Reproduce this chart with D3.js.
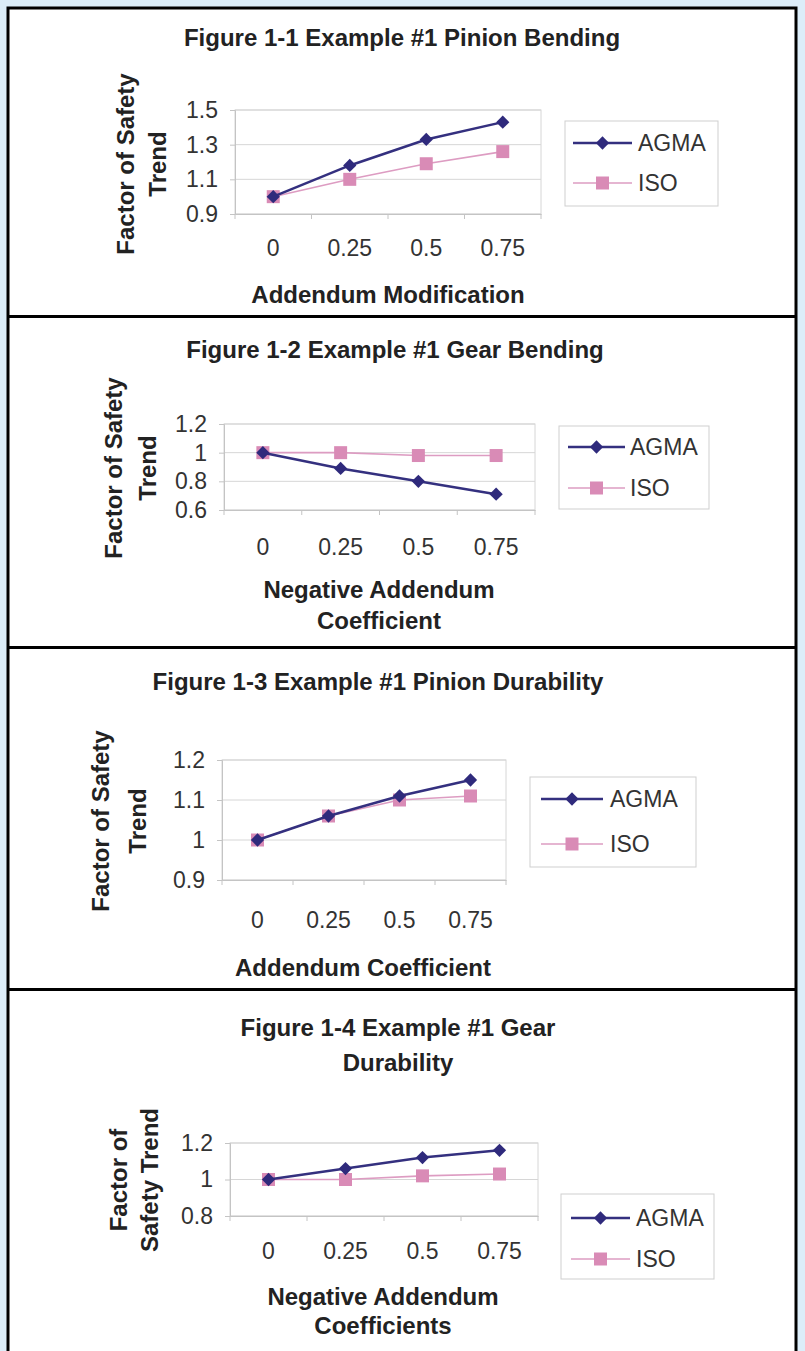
<!DOCTYPE html>
<html>
<head>
<meta charset="utf-8">
<script src="https://cdn.jsdelivr.net/npm/d3@7"></script>
<style>
  body { margin: 0; background: #dcedf9; }
  svg { display: block; font-family: "Liberation Sans", Arial, sans-serif; }
</style>
</head>
<body>
<svg id="chart" width="805" height="1351"></svg>
<script>
// data
const categories = ["0", "0.25", "0.5", "0.75"];
const seriesNames = ["AGMA", "ISO"];

const agmaPinionBending = [1.0, 1.18, 1.33, 1.43];
const isoPinionBending = [1.0, 1.1, 1.19, 1.26];
const agmaGearBending = [1.0, 0.89, 0.8, 0.71];
const isoGearBending = [1.0, 1.0, 0.98, 0.98];
const agmaPinionDurability = [1.0, 1.06, 1.11, 1.15];
const isoPinionDurability = [1.0, 1.06, 1.1, 1.11];
const agmaGearDurability = [1.0, 1.06, 1.12, 1.16];
const isoGearDurability = [1.0, 1.0, 1.02, 1.03];

const titles = [
  ["Figure 1-1 Example #1 Pinion Bending"],
  ["Figure 1-2 Example #1 Gear Bending"],
  ["Figure 1-3 Example #1 Pinion Durability"],
  ["Figure 1-4 Example #1 Gear", "Durability"],
];
const xTitles = [
  ["Addendum Modification"],
  ["Negative Addendum", "Coefficient"],
  ["Addendum Coefficient"],
  ["Negative Addendum", "Coefficients"],
];
const yTitles = [
  ["Factor of Safety", "Trend"],
  ["Factor of Safety", "Trend"],
  ["Factor of Safety", "Trend"],
  ["Factor of", "Safety Trend"],
];
const yTicks = [
  [0.9, 1.1, 1.3, 1.5],
  [0.6, 0.8, 1, 1.2],
  [0.9, 1, 1.1, 1.2],
  [0.8, 1, 1.2],
];
const seriesByPanel = [
  [agmaPinionBending, isoPinionBending],
  [agmaGearBending, isoGearBending],
  [agmaPinionDurability, isoPinionDurability],
  [agmaGearDurability, isoGearDurability],
];

// placement of each panel on the page
const layout = [
  { plot: [235, 541, 110, 214], titleX: 402, titleY: [46], yTitleX: [134, 166], yTitleCY: 164,
    xTitleX: 388, xTitleY: [303], labelGap: 26,
    legend: { box: [565, 718, 121, 206], rows: [143, 183], line: [573, 632], tx: 638 } },
  { plot: [224, 535, 424, 510], titleX: 395, titleY: [358], yTitleX: [122, 156], yTitleCY: 468,
    xTitleX: 379, xTitleY: [598, 629], labelGap: 29,
    legend: { box: [559, 709, 426, 509], rows: [447, 488], line: [568, 625], tx: 630 } },
  { plot: [222, 506, 760, 880], titleX: 378, titleY: [690], yTitleX: [109, 146], yTitleCY: 821,
    xTitleX: 363, xTitleY: [976], labelGap: 32,
    legend: { box: [530, 696, 777, 867], rows: [799, 844], line: [541, 603], tx: 610 } },
  { plot: [230, 538, 1143, 1216], titleX: 398, titleY: [1036, 1071], yTitleX: [127, 158], yTitleCY: 1180,
    xTitleX: 383, xTitleY: [1305, 1334], labelGap: 27,
    legend: { box: [561, 714, 1194, 1279], rows: [1218, 1259], line: [571, 630], tx: 636 } },
];
const separators = [316.5, 647.5, 989.5];

const colors = ["#2f2a7c", "#d98bb6"];
const lineColors = ["#34307f", "#dd9cc2"];
const lineWidths = [2.5, 1.6];
const fmt = (d) => String(+d.toFixed(2));

const svg = d3.select("#chart");

// white page with black frame
svg.append("rect").attr("x", 8).attr("y", 8).attr("width", 788).attr("height", 1360)
  .attr("fill", "white").attr("stroke", "black").attr("stroke-width", 3);
svg.selectAll(".sep").data(separators).enter().append("line")
  .attr("x1", 8).attr("x2", 796).attr("y1", (d) => d).attr("y2", (d) => d)
  .attr("stroke", "black").attr("stroke-width", 3);

const marker = (g, i, cx, cy) => {
  if (i === 0) {
    g.append("path").attr("d", d3.symbol().type(d3.symbolSquare).size(88)())
      .attr("transform", `translate(${cx},${cy}) rotate(45)`).attr("fill", colors[0]);
  } else {
    g.append("path").attr("d", d3.symbol().type(d3.symbolSquare).size(169)())
      .attr("transform", `translate(${cx},${cy})`).attr("fill", colors[1]);
  }
};

layout.forEach((L, p) => {
  const g = svg.append("g");
  const [x0, x1, y0, y1] = L.plot;
  const x = d3.scaleBand().domain(categories).range([x0, x1]);
  const yt = yTicks[p];
  const y = d3.scaleLinear().domain([yt[0], yt[yt.length - 1]]).range([y1, y0]);

  // title
  titles[p].forEach((t, k) => {
    g.append("text").attr("x", L.titleX).attr("y", L.titleY[k])
      .attr("text-anchor", "middle").attr("font-size", 24).attr("font-weight", "bold")
      .attr("fill", "#222").text(t);
  });

  // plot frame and gridlines
  g.append("rect").attr("x", x0).attr("y", y0).attr("width", x1 - x0).attr("height", y1 - y0)
    .attr("fill", "none").attr("stroke", "#d6d6d6");
  g.selectAll(".grid").data(yt).enter().append("line")
    .attr("x1", x0).attr("x2", x1).attr("y1", (d) => y(d)).attr("y2", (d) => y(d))
    .attr("stroke", "#d6d6d6");

  // y axis
  const ya = g.append("g").attr("transform", `translate(${x0},0)`)
    .call(d3.axisLeft(y).tickValues(yt).tickSize(5).tickPadding(12).tickFormat(fmt));
  ya.select(".domain").attr("stroke", "#c4c4c4");
  ya.selectAll(".tick line").attr("stroke", "#c4c4c4");
  ya.selectAll("text").attr("font-size", 23).attr("fill", "#333").attr("font-family", null);

  // x axis: labels centered in bands, ticks on band edges
  const xa = g.append("g").attr("transform", `translate(0,${y1})`)
    .call(d3.axisBottom(x).tickSize(0).tickPadding(L.labelGap));
  xa.select(".domain").attr("stroke", "#c4c4c4");
  xa.selectAll("text").attr("font-size", 23).attr("fill", "#333").attr("font-family", null);
  const edges = categories.map((c) => x(c)).concat([x1]);
  g.selectAll(".xtick").data(edges).enter().append("line")
    .attr("x1", (d) => d).attr("x2", (d) => d).attr("y1", y1).attr("y2", y1 + 5)
    .attr("stroke", "#c4c4c4");

  // axis titles
  xTitles[p].forEach((t, k) => {
    g.append("text").attr("x", L.xTitleX).attr("y", L.xTitleY[k])
      .attr("text-anchor", "middle").attr("font-size", 24).attr("font-weight", "bold")
      .attr("fill", "#222").text(t);
  });
  yTitles[p].forEach((t, k) => {
    g.append("text")
      .attr("transform", `translate(${L.yTitleX[k]},${L.yTitleCY}) rotate(-90)`)
      .attr("text-anchor", "middle").attr("font-size", 24).attr("font-weight", "bold")
      .attr("fill", "#222").text(t);
  });

  // series (ISO under AGMA)
  const line = d3.line().x((d, i) => x(categories[i]) + x.bandwidth() / 2).y((d) => y(d));
  [1, 0].forEach((s) => {
    const vals = seriesByPanel[p][s];
    g.append("path").datum(vals).attr("d", line).attr("fill", "none")
      .attr("stroke", lineColors[s]).attr("stroke-width", lineWidths[s]);
    vals.forEach((v, i) => marker(g, s, x(categories[i]) + x.bandwidth() / 2, y(v)));
  });

  // legend
  const lg = L.legend;
  g.append("rect").attr("x", lg.box[0]).attr("y", lg.box[2])
    .attr("width", lg.box[1] - lg.box[0]).attr("height", lg.box[3] - lg.box[2])
    .attr("fill", "white").attr("stroke", "#cfcfcf");
  seriesNames.forEach((name, s) => {
    const ry = lg.rows[s];
    g.append("line").attr("x1", lg.line[0]).attr("x2", lg.line[1]).attr("y1", ry).attr("y2", ry)
      .attr("stroke", lineColors[s]).attr("stroke-width", lineWidths[s]);
    marker(g, s, (lg.line[0] + lg.line[1]) / 2, ry);
    g.append("text").attr("x", lg.tx).attr("y", ry).attr("dy", "0.35em")
      .attr("font-size", 23).attr("fill", "#333").text(name);
  });
});
</script>
</body>
</html>
